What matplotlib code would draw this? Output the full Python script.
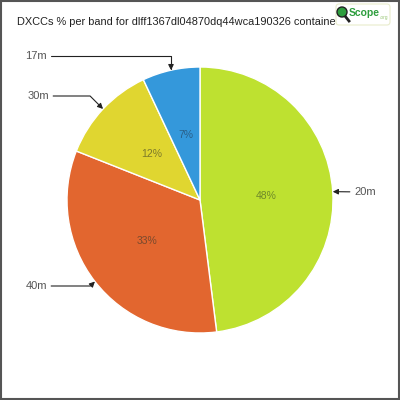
import numpy as np
import matplotlib
matplotlib.use("Agg")
import matplotlib.pyplot as plt
from matplotlib import font_manager
from matplotlib.patches import FancyBboxPatch, Rectangle, Circle

names = {f.name for f in font_manager.fontManager.ttflist}
narrow = "Liberation Sans Narrow" if "Liberation Sans Narrow" in names else "Liberation Sans"
plt.rcParams['font.family'] = [narrow, 'DejaVu Sans']

# data
bands = ["20m", "40m", "30m", "17m"]
shares = [48, 33, 12, 7]
colors = ["#bee130", "#e2662f", "#e0d630", "#3498db"]
pct_colors = ["#6f8a2a", "#7a4a2e", "#7d7a2a", "#2a5f88"]
title = "DXCCs % per band for dlff1367dl04870dq44wca190326 containe"

fig = plt.figure(figsize=(4, 4), dpi=100)
ax = fig.add_axes([0, 0, 1, 1])

wedges, texts, autotexts = ax.pie(
    shares, colors=colors, startangle=90, counterclock=False,
    autopct="%d%%", pctdistance=0.5,
    wedgeprops=dict(edgecolor="white", linewidth=1),
    textprops=dict(fontsize=7.5))
for t, c in zip(autotexts, pct_colors):
    t.set_color(c)

lim = 200 / 133.0
ax.set_xlim(-lim, lim)
ax.set_ylim(-lim, lim)
ax.set_aspect("equal")
ax.axis("off")

# label positions (figure pixels from top-left) and connector style
label_pos = {"17m": (47, 56), "30m": (49, 96), "20m": (354, 192), "40m": (47, 286)}
conn = {"17m": "angle,angleA=0,angleB=90,rad=0",
        "30m": "angle,angleA=0,angleB=-45,rad=0",
        "20m": "arc3,rad=0",
        "40m": "angle,angleA=0,angleB=45,rad=0"}
for w, band in zip(wedges, bands):
    mid = np.deg2rad((w.theta1 + w.theta2) / 2)
    tip = (np.cos(mid), np.sin(mid))
    px, py = label_pos[band]
    tx = px / 200.0 * lim - lim
    ty = lim - py / 200.0 * lim
    ha = "left" if tx > 0 else "right"
    ax.annotate(band, xy=tip, xytext=(tx, ty), ha=ha, va="center",
                fontsize=8, color="#555555",
                arrowprops=dict(arrowstyle="-|>", color="#222222", lw=0.8,
                                mutation_scale=8, shrinkA=1, shrinkB=0,
                                connectionstyle=conn[band]))

fig.text(17 / 400, 1 - 22 / 400, title, fontsize=7.9, color="#222222",
         ha="left", va="center")

# logo box at the end of the title
logo = FancyBboxPatch((336 / 400, 1 - 25 / 400), 54 / 400, 21 / 400,
                      boxstyle="round,pad=0,rounding_size=0.008",
                      transform=fig.transFigure, facecolor="white",
                      edgecolor="#e8eccc", linewidth=0.8, zorder=5)
fig.patches.append(logo)
fig.patches.append(Circle((342 / 400, 1 - 12 / 400), 5 / 400, transform=fig.transFigure,
                          facecolor="#2e9e3e", edgecolor="#222222", lw=1, zorder=6))
fig.lines.append(plt.Line2D([345 / 400, 349 / 400], [1 - 16 / 400, 1 - 21 / 400],
                            transform=fig.transFigure, color="#222222", lw=2, zorder=6))
fig.text(349 / 400, 1 - 13 / 400, "Scope", fontsize=7.5, color="#2e9e3e",
         fontweight="bold", ha="left", va="center", zorder=7)
fig.text(380 / 400, 1 - 17 / 400, ".org", fontsize=3.5, color="#9cc87a",
         ha="left", va="center", zorder=7)

# outer frame
fig.patches.append(Rectangle((0.002, 0.002), 0.995, 0.995, transform=fig.transFigure,
                             fill=False, edgecolor="#555555", lw=1.5, zorder=8))

fig.savefig("out.png", dpi=100)
